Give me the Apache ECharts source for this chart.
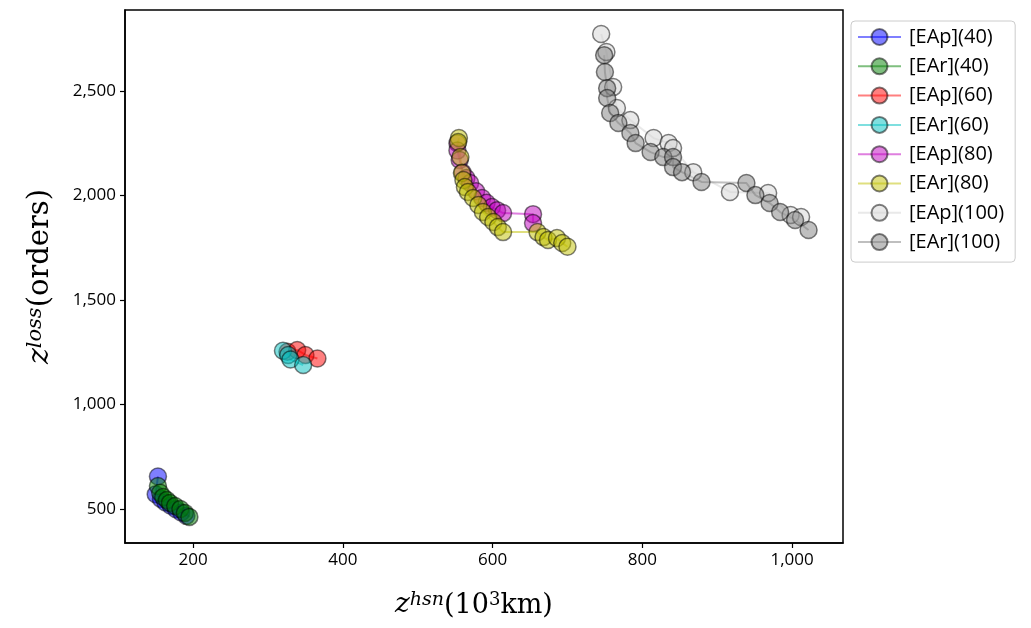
<!DOCTYPE html>
<html>
<head>
<meta charset="utf-8">
<script src="https://cdn.jsdelivr.net/npm/echarts@6/dist/echarts.min.js"></script>
<style>
  html, body { margin: 0; padding: 0; background: #fff; }
  #chart { width: 1031px; height: 628px; }
</style>
</head>
<body>
<div id="chart"></div>
<script>
// z^hsn (10^3 km) vs z^loss (orders) per strategy and fleet size
const seriesNames = ['[EAp](40)', '[EAr](40)', '[EAp](60)', '[EAr](60)', '[EAp](80)', '[EAr](80)', '[EAp](100)', '[EAr](100)'];

const eap40X = [153, 150, 157, 163, 170, 177, 184, 191];
const eap40Y = [655, 570, 548, 531, 515, 499, 483, 467];
const ear40X = [153, 156, 160, 165, 169, 176, 183, 189, 195];
const ear40Y = [610, 577, 557, 543, 529, 514, 500, 481, 462];

const eap60X = [326, 339, 350, 366];
const eap60Y = [1252, 1261, 1237, 1220];
const ear60X = [320, 327, 330, 347];
const ear60Y = [1257, 1237, 1215, 1189];

const eap80X = [553, 553, 556, 560, 565, 570, 578, 586, 592, 599, 606, 614, 654, 654];
const eap80Y = [2250, 2215, 2170, 2110, 2084, 2060, 2020, 1988, 1965, 1945, 1930, 1916, 1911, 1868];
const ear80X = [555, 554, 557, 559, 561, 563, 567, 574, 581, 587, 594, 601, 607, 614, 660, 668, 674, 686, 693, 700];
const ear80Y = [2275, 2256, 2184, 2108, 2074, 2041, 2017, 1988, 1955, 1921, 1897, 1873, 1849, 1825, 1825, 1801, 1787, 1797, 1773, 1755];

const eap100X = [745, 752, 761, 766, 784, 815, 835, 841, 868, 917, 968, 998, 1012];
const eap100Y = [2773, 2687, 2519, 2419, 2361, 2275, 2251, 2227, 2112, 2017, 2012, 1907, 1897];
const ear100X = [749, 750, 753, 753, 757, 768, 784, 791, 811, 828, 841, 841, 853, 879, 939, 951, 970, 984, 1004, 1022];
const ear100Y = [2672, 2591, 2514, 2467, 2395, 2347, 2299, 2251, 2208, 2184, 2184, 2136, 2112, 2065, 2060, 2002, 1964, 1921, 1883, 1835];

const xTicks = [200, 400, 600, 800, 1000];
const yTicks = [500, 1000, 1500, 2000, 2500];

const seriesX = [eap40X, ear40X, eap60X, ear60X, eap80X, ear80X, eap100X, ear100X];
const seriesY = [eap40Y, ear40Y, eap60Y, ear60Y, eap80Y, ear80Y, eap100Y, ear100Y];
const seriesRGB = ['0,0,255', '0,128,0', '255,0,0', '0,191,191', '191,0,191', '191,191,0', '211,211,211', '128,128,128'];

const fmt = v => Number(v).toLocaleString('en-US');
const tickFont = '"Open Sans", "Liberation Sans", sans-serif';
const mathFont = '"DejaVu Serif", "Liberation Serif", serif';

const series = seriesNames.map((name, i) => ({
  name: name,
  type: 'line',
  data: seriesX[i].map((x, k) => [x, seriesY[i][k]]),
  symbol: 'circle',
  symbolSize: 17,
  showSymbol: true,
  lineStyle: { color: 'rgba(' + seriesRGB[i] + ',0.5)', width: 2 },
  itemStyle: {
    color: 'rgba(' + seriesRGB[i] + ',0.5)',
    borderColor: 'rgba(0,0,0,0.5)',
    borderWidth: 1.5
  },
  emphasis: { disabled: true },
  animation: false
}));

function nameRich(size) {
  return {
    z: { fontFamily: mathFont, fontStyle: 'italic', fontSize: size + 1, color: '#000', verticalAlign: 'bottom' },
    sup: { fontFamily: mathFont, fontStyle: 'italic', fontSize: Math.round(size * 0.72), color: '#000', verticalAlign: 'top' },
    sup2: { fontFamily: mathFont, fontSize: Math.round(size * 0.65), color: '#000', verticalAlign: 'top' },
    p: { fontFamily: mathFont, fontSize: size, color: '#000', verticalAlign: 'bottom' }
  };
}

const chart = echarts.init(document.getElementById('chart'), null, { renderer: 'canvas' });
chart.setOption({
  backgroundColor: '#ffffff',
  animation: false,
  grid: {
    left: 125, right: 188, top: 10, bottom: 85,
    show: true, borderColor: '#000', borderWidth: 1.5, backgroundColor: 'transparent'
  },
  legend: {
    orient: 'vertical',
    left: 851, top: 21,
    padding: [6, 11, 10, 6],
    itemGap: 9.3,
    itemWidth: 43,
    itemHeight: 20,
    backgroundColor: '#fff',
    borderColor: '#cccccc',
    borderWidth: 1,
    borderRadius: 4,
    textStyle: { fontFamily: tickFont, fontSize: 20, color: '#000', padding: [0, 0, 0, 3] },
    data: seriesNames
  },
  xAxis: {
    type: 'value',
    min: 109, max: 1068,
    splitLine: { show: false },
    axisLine: { show: true, lineStyle: { color: '#000', width: 1.5 } },
    axisTick: { show: true, inside: false, length: 5, customValues: xTicks, lineStyle: { color: '#000', width: 1.2 } },
    axisLabel: { customValues: xTicks, formatter: fmt, margin: 9, fontFamily: tickFont, fontSize: 17, color: '#000' },
    name: '{z|z}{sup|hsn}{p|(10}{sup2|3}{p|km)}',
    nameLocation: 'middle',
    nameGap: 48,
    nameTextStyle: { rich: nameRich(27), padding: [0, 20, 0, 0] }
  },
  yAxis: {
    type: 'value',
    min: 337, max: 2888,
    splitLine: { show: false },
    axisLine: { show: true, lineStyle: { color: '#000', width: 1.5 } },
    axisTick: { show: true, inside: false, length: 5, customValues: yTicks, lineStyle: { color: '#000', width: 1.2 } },
    axisLabel: { customValues: yTicks, formatter: fmt, margin: 9, fontFamily: tickFont, fontSize: 17, color: '#000' },
    name: '{z|z}{sup|loss}{p|(orders)}',
    nameLocation: 'middle',
    nameRotate: 90,
    nameGap: 70,
    nameTextStyle: { rich: nameRich(29) }
  },
  series: series
});
</script>
</body>
</html>
